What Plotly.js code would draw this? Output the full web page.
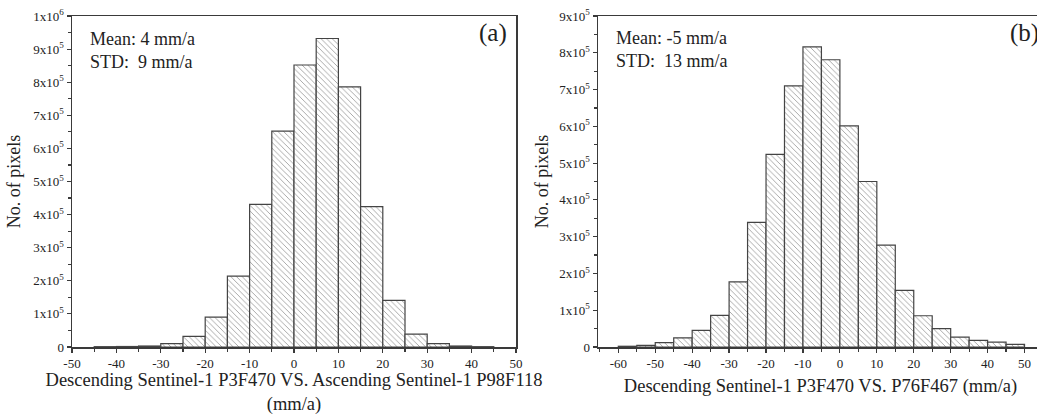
<!DOCTYPE html>
<html>
<head>
<meta charset="utf-8">
<script src="https://cdn.plot.ly/plotly-3.0.1.min.js"></script>
<style>
html,body{margin:0;padding:0;background:#fff;overflow:hidden;}
#chart{width:1060px;height:415px;}
</style>
</head>
<body>
<div id="chart"></div>
<script>
// Panel (a): bin left edges (mm/a) and pixel counts
const binStartsA = [-45,-40,-35,-30,-25,-20,-15,-10,-5,0,5,10,15,20,25,30,35,40];
const countsA = [1000,1500,3000,10000,32000,90000,214000,431000,652000,852000,932000,786000,424000,141000,39000,10000,3000,1000];
// Panel (b)
const binStartsB = [-60,-55,-50,-45,-40,-35,-30,-25,-20,-15,-10,-5,0,5,10,15,20,25,30,35,40,45];
const countsB = [2000,4500,12000,25000,45000,86000,177000,339000,524000,710000,816000,781000,601000,450000,277000,154000,85000,50000,27000,18000,13000,7000];
const binWidth = 5;

const xTickValsA = [-50,-40,-30,-20,-10,0,10,20,30,40,50];
const xTickTextA = ['-50','-40','-30','-20','-10','0','10','20','30','40','50'];
const xTickValsB = [-60,-50,-40,-30,-20,-10,0,10,20,30,40,50];
const xTickTextB = ['-60','-50','-40','-30','-20','-10','0','10','20','30','40','50'];
const yTickValsA = [0,1e5,2e5,3e5,4e5,5e5,6e5,7e5,8e5,9e5,1e6];
const yTickTextA = ['0','1x10<sup>5</sup>','2x10<sup>5</sup>','3x10<sup>5</sup>','4x10<sup>5</sup>','5x10<sup>5</sup>','6x10<sup>5</sup>','7x10<sup>5</sup>','8x10<sup>5</sup>','9x10<sup>5</sup>','1x10<sup>6</sup>'];
const yTickValsB = [0,1e5,2e5,3e5,4e5,5e5,6e5,7e5,8e5,9e5];
const yTickTextB = ['0','1x10<sup>5</sup>','2x10<sup>5</sup>','3x10<sup>5</sup>','4x10<sup>5</sup>','5x10<sup>5</sup>','6x10<sup>5</sup>','7x10<sup>5</sup>','8x10<sup>5</sup>','9x10<sup>5</sup>'];

const xTitleA = 'Descending Sentinel-1 P3F470 VS. Ascending Sentinel-1 P98F118<br>(mm/a)';
const xTitleB = 'Descending Sentinel-1 P3F470 VS. P76F467 (mm/a)';
const yTitle = 'No. of pixels';
const statsA = ['Mean: 4 mm/a', 'STD:  9 mm/a'];
const statsB = ['Mean: -5 mm/a', 'STD:  13 mm/a'];

const W = 1060;
const FONT = '"Liberation Serif", serif';
const lineCol = '#3a3a3a';

function barTrace(xs, ys, xa, ya) {
  return {
    type: 'bar', x: xs, y: ys, width: binWidth, offset: 0,
    xaxis: xa, yaxis: ya,
    marker: {
      color: '#ffffff',
      line: {color: '#444', width: 1.2},
      pattern: {shape: '\\', size: 4, solidity: 0.15, fgcolor: '#707070', bgcolor: '#ffffff'}
    },
    hoverinfo: 'skip', showlegend: false
  };
}

const axisCommon = {
  showgrid: false, zeroline: false, showline: true, linecolor: lineCol, linewidth: 1.5,
  ticks: 'outside', ticklen: 4, tickwidth: 1.2, tickcolor: lineCol,
  tickfont: {family: FONT, size: 13, color: '#222'}
};

const layout = {
  width: W, height: 415,
  margin: {l: 0, r: 0, t: 16, b: 68},
  paper_bgcolor: '#fff', plot_bgcolor: '#fff',
  font: {family: FONT, color: '#222'},
  bargap: 0,
  xaxis: Object.assign({}, axisCommon, {
    domain: [72/W, 516/W], range: [-50, 50], anchor: 'y',
    tickmode: 'array', tickvals: xTickValsA, ticktext: xTickTextA, mirror: true,
    minor: {dtick: 5, tick0: -50, ticks: 'outside', ticklen: 3, tickcolor: lineCol},
    title: {text: xTitleA, font: {family: FONT, size: 18.5, color: '#222'}, standoff: 6}
  }),
  yaxis: Object.assign({}, axisCommon, {
    domain: [0, 1], range: [0, 1e6], anchor: 'x',
    tickmode: 'array', tickvals: yTickValsA, ticktext: yTickTextA, mirror: true,
    minor: {dtick: 50000, tick0: 0, ticks: 'outside', ticklen: 3, tickcolor: lineCol},
    title: {text: yTitle, font: {family: FONT, size: 18, color: '#222'}, standoff: 8}
  }),
  xaxis2: Object.assign({}, axisCommon, {
    domain: [598/W, 1043/W], range: [-65.5, 55], anchor: 'y2',
    tickmode: 'array', tickvals: xTickValsB, ticktext: xTickTextB, mirror: true,
    minor: {dtick: 5, tick0: -60, ticks: 'outside', ticklen: 3, tickcolor: lineCol},
    title: {text: xTitleB, font: {family: FONT, size: 18.5, color: '#222'}, standoff: 9}
  }),
  yaxis2: Object.assign({}, axisCommon, {
    domain: [0, 1], range: [0, 9e5], anchor: 'x2',
    tickmode: 'array', tickvals: yTickValsB, ticktext: yTickTextB, mirror: true,
    minor: {dtick: 50000, tick0: 0, ticks: 'outside', ticklen: 3, tickcolor: lineCol},
    title: {text: yTitle, font: {family: FONT, size: 18, color: '#222'}, standoff: 6}
  }),
  annotations: [
    {xref: 'x domain', yref: 'y domain', x: 0.035, y: 0.93, xanchor: 'left', yanchor: 'middle',
     text: statsA[0], showarrow: false, font: {family: FONT, size: 18, color: '#222'}},
    {xref: 'x domain', yref: 'y domain', x: 0.035, y: 0.86, xanchor: 'left', yanchor: 'middle',
     text: statsA[1], showarrow: false, font: {family: FONT, size: 18, color: '#222'}},
    {xref: 'x domain', yref: 'y domain', x: 0.985, y: 0.95, xanchor: 'right', yanchor: 'middle',
     text: '(a)', showarrow: false, font: {family: FONT, size: 25, color: '#222'}},
    {xref: 'x2 domain', yref: 'y2 domain', x: 0.035, y: 0.935, xanchor: 'left', yanchor: 'middle',
     text: statsB[0], showarrow: false, font: {family: FONT, size: 18, color: '#222'}},
    {xref: 'x2 domain', yref: 'y2 domain', x: 0.035, y: 0.865, xanchor: 'left', yanchor: 'middle',
     text: statsB[1], showarrow: false, font: {family: FONT, size: 18, color: '#222'}},
    {xref: 'paper', yref: 'y2 domain', x: 1041/W, y: 0.95, xanchor: 'right', yanchor: 'middle',
     text: '(b)', showarrow: false, font: {family: FONT, size: 25, color: '#222'}}
  ]
};

Plotly.newPlot('chart', [
  barTrace(binStartsA, countsA, 'x', 'y'),
  barTrace(binStartsB, countsB, 'x2', 'y2')
], layout, {displayModeBar: false, staticPlot: true});
</script>
</body>
</html>
